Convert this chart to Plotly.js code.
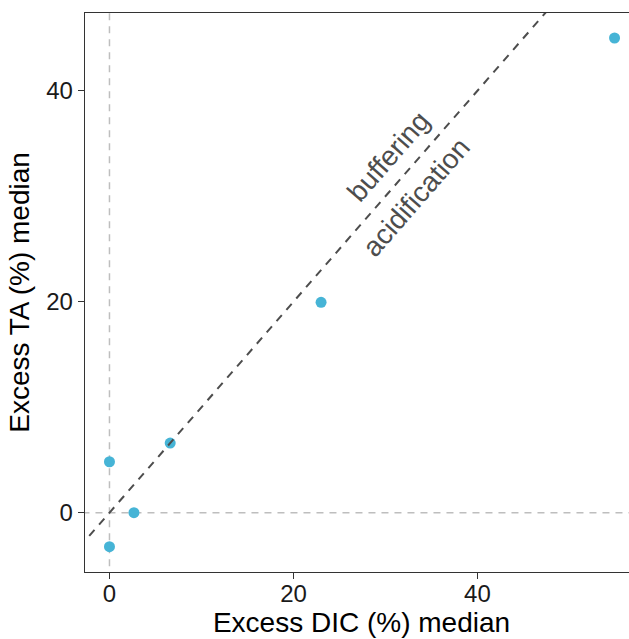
<!DOCTYPE html>
<html>
<head>
<meta charset="utf-8">
<script src="https://cdn.plot.ly/plotly-3.0.1.min.js"></script>
<style>
html, body { margin: 0; padding: 0; overflow: hidden; background: #fff; }
#chart { width: 638px; height: 639px; }
</style>
</head>
<body>
<div id="chart"></div>
<script>
// Data
const excessDIC = [0, 0, 2.66, 6.6, 23.0, 54.9];
const excessTA  = [4.83, -3.22, 0, 6.6, 19.94, 45.0];

// 1:1 reference line endpoints
const oneToOneX = [-2.2, 50];
const oneToOneY = [-2.2, 50];

// zero reference lines
const zeroVx = [0, 0];
const zeroVy = [-10, 60];
const zeroHx = [-10, 70];
const zeroHy = [0, 0];

const xTicks = [0, 20, 40];
const yTicks = [0, 20, 40];

const labelText = ["buffering", "acidification"];
const labelX = [30.3, 33.3];
const labelY = [33.8, 29.9];

const FONT = "Liberation Sans, Arial, Helvetica, sans-serif";

const traces = [
  { x: zeroVx, y: zeroVy, mode: "lines", line: { color: "#BEBEBE", width: 1.5, dash: "7px,6px" }, hoverinfo: "skip", showlegend: false },
  { x: zeroHx, y: zeroHy, mode: "lines", line: { color: "#BEBEBE", width: 1.5, dash: "7px,6px" }, hoverinfo: "skip", showlegend: false },
  { x: excessDIC, y: excessTA, mode: "markers", marker: { color: "#46B4D6", size: 11 }, showlegend: false },
  { x: oneToOneX, y: oneToOneY, mode: "lines", line: { color: "#4D4D4D", width: 2, dash: "8px,7px" }, hoverinfo: "skip", showlegend: false }
];

const annotations = labelText.map((t, i) => ({
  x: labelX[i], y: labelY[i], xref: "x", yref: "y",
  text: t, showarrow: false, textangle: -48.9,
  xanchor: "center", yanchor: "middle",
  font: { family: FONT, size: 28, color: "#4D4D4D" }
}));

const layout = {
  width: 638, height: 639,
  margin: { l: 85, r: 0, t: 13, b: 67 },
  paper_bgcolor: "#fff", plot_bgcolor: "#fff",
  showlegend: false,
  xaxis: {
    range: [-2.66, 57.45],
    tickvals: xTicks, ticktext: xTicks.map(String),
    showgrid: false, zeroline: false,
    showline: true, mirror: true, linecolor: "#333333", linewidth: 1.3,
    ticks: "outside", ticklen: 6, tickwidth: 1.3, tickcolor: "#333333",
    ticklabelstandoff: -6,
    tickfont: { family: FONT, size: 24, color: "#1A1A1A" },
    title: { text: "Excess DIC (%) median", font: { family: FONT, size: 28, color: "#000" }, standoff: 2 }
  },
  yaxis: {
    range: [-5.62, 47.37],
    tickvals: yTicks, ticktext: yTicks.map(String),
    showgrid: false, zeroline: false,
    showline: true, mirror: true, linecolor: "#333333", linewidth: 1.3,
    ticks: "outside", ticklen: 6, tickwidth: 1.3, tickcolor: "#333333",
    tickfont: { family: FONT, size: 24, color: "#1A1A1A" },
    title: { text: "Excess TA (%) median", font: { family: FONT, size: 28, color: "#000" }, standoff: 8 }
  },
  annotations: annotations
};

Plotly.newPlot("chart", traces, layout, { staticPlot: true, displayModeBar: false });
</script>
</body>
</html>
